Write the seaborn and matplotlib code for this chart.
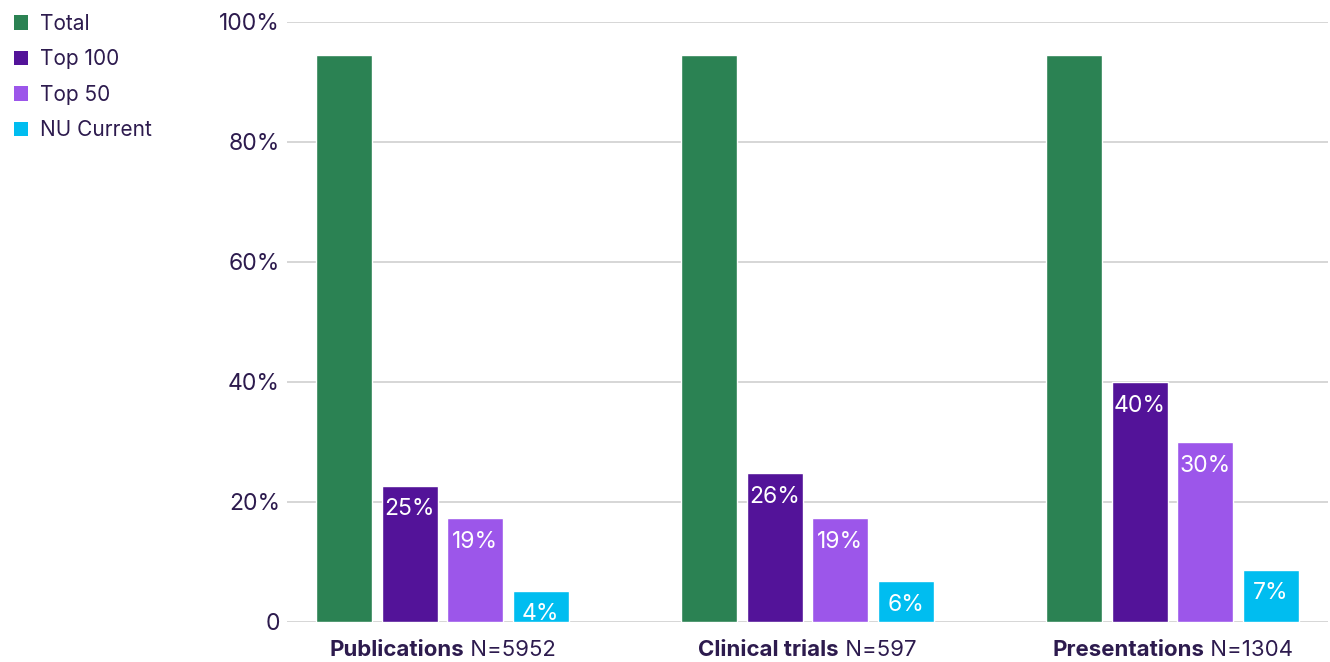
import numpy as np
import pandas as pd
import matplotlib
matplotlib.use('Agg')
import matplotlib.pyplot as plt
import seaborn as sns
from matplotlib.patches import Patch

# Dữ liệu
categories = ['Publications', 'Clinical trials', 'Presentations']
n_labels = ['N=5952', 'N=597', 'N=1304']
series = ['Total', 'Top 100', 'Top 50', 'NU Current']
total = [94.5, 94.5, 94.5]
top100 = [22.7, 24.8, 40.0]
top50 = [17.3, 17.3, 30.0]
nu_current = [5.2, 6.8, 8.7]
top100_labels = ['25%', '26%', '40%']
top50_labels = ['19%', '19%', '30%']
nu_labels = ['4%', '6%', '7%']
y_ticks = [0, 20, 40, 60, 80, 100]
y_tick_labels = ['0', '20%', '40%', '60%', '80%', '100%']

colors = ['#2b8253', '#531399', '#9c56ea', '#00bdf0']
text_color = '#2d1b4e'

sns.set_theme(style='white')
plt.rcParams['font.family'] = ['Inter', 'DejaVu Sans']

df = pd.DataFrame({
    'category': np.repeat(categories, len(series)),
    'series': series * len(categories),
    'value': np.ravel(np.column_stack([total, top100, top50, nu_current])),
})

fig = plt.figure(figsize=(13.3, 6.62), dpi=100)
ax = fig.add_axes([287 / 1330, 40 / 662, 1041 / 1330, 600 / 662])

sns.barplot(data=df, x='category', y='value', hue='series', order=categories,
            hue_order=series, palette=colors, width=0.717, gap=0.145,
            saturation=1, legend=False, ax=ax)

ax.set_xlim(-0.426, 2.426)
ax.set_ylim(0, 100)
ax.set_yticks(y_ticks)
ax.set_yticklabels(y_tick_labels, fontsize=16.5, color=text_color)
ax.tick_params(axis='y', length=0, pad=5)
ax.set_xticks([])
ax.set_xlabel('')
ax.set_ylabel('')
ax.yaxis.grid(True, color='#d0d0d0', linewidth=1.2)
ax.set_axisbelow(True)
for s in ax.spines.values():
    s.set_visible(False)

# Nhãn giá trị bên trong cột
for container, labels in zip(ax.containers[1:], [top100_labels, top50_labels, nu_labels]):
    for bar, lab in zip(container, labels):
        ax.annotate(lab, (bar.get_x() + bar.get_width() / 2, bar.get_height()),
                    xytext=(0, -9), textcoords='offset points',
                    ha='center', va='top', color='white', fontsize=16.5)

# Nhãn danh mục: phần đậm + phần thường
fig.canvas.draw()
renderer = fig.canvas.get_renderer()
for i, (cat, n) in enumerate(zip(categories, n_labels)):
    t1 = ax.text(i, 0, cat, fontsize=16, fontweight='bold', color=text_color,
                 ha='left', va='center', transform=ax.get_xaxis_transform())
    t2 = ax.text(i, 0, ' ' + n, fontsize=16, color=text_color,
                 ha='left', va='center', transform=ax.get_xaxis_transform())
    w1 = t1.get_window_extent(renderer).width
    w2 = t2.get_window_extent(renderer).width
    x_disp = ax.transData.transform((i, 0))[0]
    y_disp = fig.bbox.height - 650
    left = x_disp - (w1 + w2) / 2
    inv = ax.transAxes.inverted()
    p1 = inv.transform((left, y_disp))
    p2 = inv.transform((left + w1, y_disp))
    t1.set_transform(ax.transAxes)
    t1.set_position(p1)
    t2.set_transform(ax.transAxes)
    t2.set_position(p2)
    t1.set_clip_on(False)
    t2.set_clip_on(False)

handles = [Patch(facecolor=c, edgecolor='none') for c in colors]
leg = fig.legend(handles, series, loc='upper left', bbox_to_anchor=(0.0, 1.0),
                 frameon=False, fontsize=15, handlelength=0.7, handleheight=0.7,
                 handletextpad=0.55, labelspacing=0.75, borderaxespad=0.25)
for t in leg.get_texts():
    t.set_color(text_color)

fig.savefig('out.png', dpi=100)
